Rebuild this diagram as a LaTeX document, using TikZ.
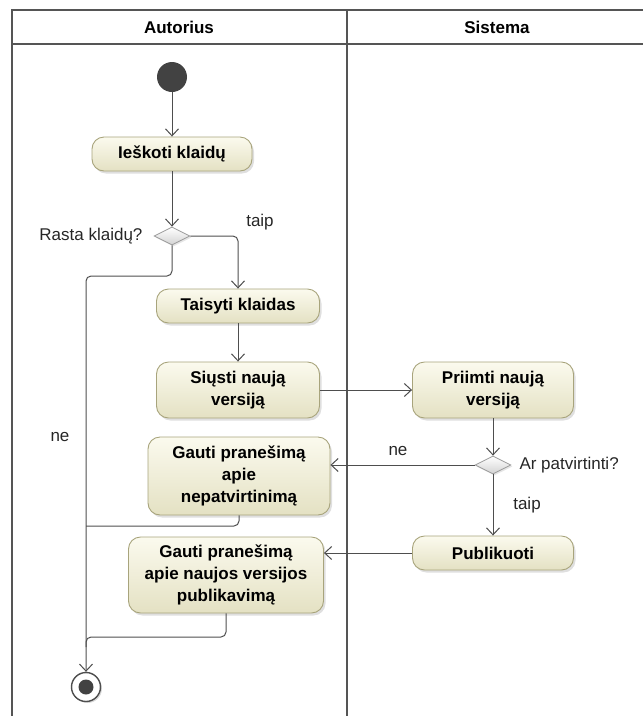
\documentclass[tikz,border=0pt]{standalone}
\usepackage{fontspec}
\setmainfont{Liberation Sans}
\usetikzlibrary{arrows.meta,shapes.geometric,shadows}

\definecolor{lane}{HTML}{555555}
\definecolor{flowc}{HTML}{4E4E4E}
\definecolor{acttop}{HTML}{FBFAEE}
\definecolor{actbot}{HTML}{E4E1C3}
\definecolor{actline}{HTML}{A8A47C}
\definecolor{nodedark}{HTML}{424242}

\tikzset{
  lanebar/.style={draw=lane, line width=2.8pt},
  lanetitle/.style={font=\fontsize{17}{20}\selectfont\bfseries},
  action/.style={rectangle, rounded corners=12pt, draw=actline, line width=0.9pt,
    top color=acttop, bottom color=actbot, align=center, inner sep=2pt,
    font=\fontsize{17}{22}\selectfont\bfseries,
    drop shadow={shadow xshift=2pt, shadow yshift=-2.5pt, opacity=0.25}},
  decision/.style={diamond, draw=gray!80, line width=0.8pt, top color=white,
    bottom color=gray!35, inner sep=0pt, minimum width=36pt, minimum height=18pt,
    drop shadow={shadow xshift=1.5pt, shadow yshift=-1.5pt, opacity=0.2}},
  initial/.style={circle, fill=nodedark, inner sep=0pt, minimum size=30pt},
  final/.style={circle, draw=flowc, line width=1.4pt, fill=white, inner sep=0pt,
    minimum size=29pt,
    drop shadow={shadow xshift=1.5pt, shadow yshift=-1.5pt, opacity=0.3}},
  finaldot/.style={circle, fill=nodedark, inner sep=0pt, minimum size=15pt},
  flow/.style={draw=flowc, line width=1pt,
    -{Straight Barb[length=7pt,width=13pt,line width=1pt]}},
  plain/.style={draw=flowc, line width=1pt},
  guard/.style={font=\fontsize{17}{20}\selectfont, text=black!85},
}

\begin{document}
\begin{tikzpicture}[x=1pt,y=-1pt]
\useasboundingbox (0,0) rectangle (643,716);

% swimlane frame
\draw[lanebar] (12,716) -- (12,10) -- (646,10);
\draw[lanebar] (12,44) -- (646,44);
\draw[lanebar] (347,10) -- (347,716);
\node[lanetitle] (lanea) at (179,27) {Autorius};
\node[lanetitle] (lanes) at (497,27) {Sistema};

% activity nodes
\node[initial] (start) at (172,77) {};
\node[action, minimum width=160pt, minimum height=34pt] (search) at (172,154) {Ieškoti klaidų};
\node[decision] (found) at (172,236) {};
\node[action, minimum width=163pt, minimum height=34pt] (fix) at (238,306) {Taisyti klaidas};
\node[action, minimum width=163pt, minimum height=56pt] (send) at (238,390) {Siųsti naują\\versiją};
\node[action, minimum width=161pt, minimum height=56pt] (recv) at (493,390) {Priimti naują\\versiją};
\node[decision] (approve) at (493,465) {};
\node[action, minimum width=182pt, minimum height=78pt] (reject) at (239,476) {Gauti pranešimą\\apie\\nepatvirtinimą};
\node[action, minimum width=161pt, minimum height=34pt] (publish) at (493,553) {Publikuoti};
\node[action, minimum width=195pt, minimum height=76pt] (notice) at (226,575) {Gauti pranešimą\\apie naujos versijos\\publikavimą};
\node[final] (end) at (86,687) {};
\node[finaldot] (enddot) at (86,687) {};

% merge points on the "ne" branch
\coordinate (m1) at (86,276);
\coordinate (m2) at (86,526);
\coordinate (m3) at (86,637);

% guard and decision labels
\node[guard, anchor=east] (qfound) at (146,236) {Rasta klaidų?};
\node[guard] (gyes1) at (260,222) {taip};
\node[guard] (gno1) at (60,437) {ne};
\node[guard, anchor=west] (qapprove) at (516,465) {Ar patvirtinti?};
\node[guard] (gno2) at (398,451) {ne};
\node[guard] (gyes2) at (527,505) {taip};

% control flows
\draw[flow] (start) -- (search);
\draw[flow] (search) -- (found);
\draw[flow, rounded corners=5pt] (found.east) -| (fix.north);
\draw[flow] (fix) -- (send);
\draw[flow] (send) -- (recv);
\draw[flow] (recv) -- (approve);
\draw[flow] (approve.west) -- (approve.west -| reject.east);
\draw[flow] (approve) -- (publish);
\draw[flow] (publish.west) -- (publish.west -| notice.east);
\draw[flow, rounded corners=5pt] (found.south) |- (m1) -- (end.north);
\draw[plain, rounded corners=5pt] (reject.south) |- (m2);
\draw[plain, rounded corners=5pt] (notice.south) |- (m3) -- ++(0,10);
\end{tikzpicture}
\end{document}
